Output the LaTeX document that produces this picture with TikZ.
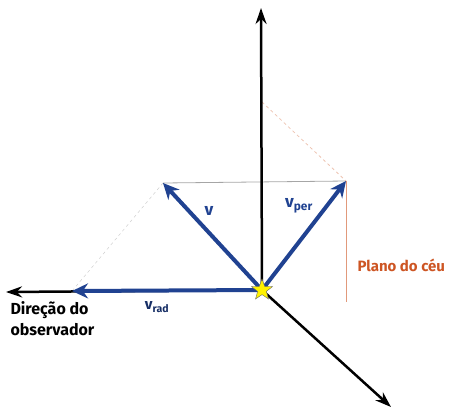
\documentclass[tikz,border=0pt]{standalone}
\usepackage{fontspec}
\setmainfont{Fira Sans}
\usetikzlibrary{arrows.meta,shapes.geometric}
\definecolor{vecblue}{RGB}{32,66,145}
\definecolor{skyorange}{RGB}{205,85,35}

\begin{document}
\begin{tikzpicture}[x=1pt, y=-1pt, >={Stealth[length=16pt,width=11pt]}]
        \useasboundingbox (0,0) rectangle (465,408);
        \coordinate (O) at (262,290);
        \coordinate (Z) at (261,8);
        \coordinate (X) at (6,292);
        \coordinate (Y) at (391,407);
        \coordinate (V) at (163,183);
        \coordinate (P) at (346,181);
        \coordinate (R) at (72,291);
        \coordinate (Q) at (262,102);
        \coordinate (B) at (346,302);
        % guide lines
        \draw[gray!70, line width=0.8pt] (V) -- (P);
        \draw[gray!45, dashed] (V) -- (R);
        \draw[skyorange!35, dashed, line width=0.8pt] (Q) -- (P);
        \draw[skyorange!60, line width=1pt] (P) -- (B);
        % axes
        \draw[->, line width=2.5pt] (O) -- (Z);
        \draw[->, line width=2.5pt] (O) -- (X);
        \draw[->, line width=2.5pt] (O) -- (Y);
        % velocity vectors
        \draw[->, vecblue, line width=4pt, >={Stealth[length=16pt,width=15pt]}] (O) -- (V);
        \draw[->, vecblue, line width=4pt, >={Stealth[length=16pt,width=15pt]}] (O) -- (P);
        \draw[->, vecblue, line width=4pt, >={Stealth[length=16pt,width=15pt]}] (O) -- (R);
        \node[star, star points=5, star point ratio=2.4, fill=yellow, draw=black!60, minimum size=22pt, inner sep=0pt] (S) at (O) {};
        % labels
        \node[vecblue, font=\bfseries\fontsize{17}{17}\selectfont] (lv) at (209,211) {v};
        \node[vecblue, font=\bfseries\fontsize{17}{17}\selectfont] (lper) at (299,206) {v\textsubscript{per}};
        \node[vecblue!70!black, font=\bfseries\fontsize{15}{15}\selectfont] (lrad) at (157,307) {v\textsubscript{rad}};
        \node[skyorange, font=\bfseries\fontsize{15}{15}\selectfont, anchor=west] (ceu) at (354,265) {Plano do céu};
        \node[font=\bfseries\fontsize{16}{21}\selectfont, align=left, anchor=north west] (obs) at (7,298) {Direção do\\observador};
      \end{tikzpicture}
\end{document}
